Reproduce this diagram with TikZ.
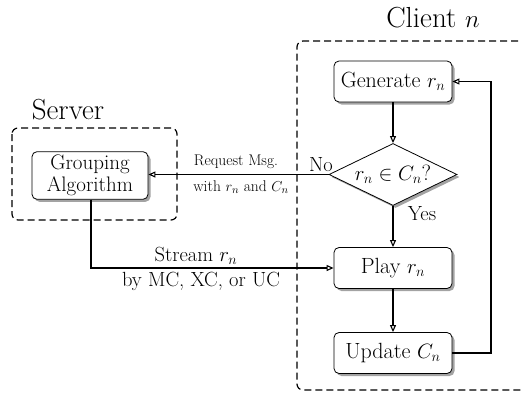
\documentclass[tikz,border=0pt]{standalone}
\usetikzlibrary{arrows.meta,shapes.geometric,shadows}
\begin{document}
\begin{tikzpicture}[x=1pt,y=-1pt,
  box/.style={draw, rounded corners=5pt, fill=white, line width=0.8pt, minimum width=118pt, minimum height=41pt, font=\fontsize{22}{25}\selectfont,
    drop shadow={shadow xshift=2.5pt, shadow yshift=-2.5pt, fill=black!60, opacity=0.6}},
  dec/.style={draw, diamond, aspect=2.06, fill=white, line width=0.8pt, inner sep=0pt, minimum width=128pt, minimum height=62pt, font=\fontsize{22}{25}\selectfont,
    drop shadow={shadow xshift=2.5pt, shadow yshift=-2.5pt, fill=black!60, opacity=0.6}},
  group/.style={draw, dash pattern=on 7pt off 4pt, line width=1.2pt, rounded corners=6pt},
  conn/.style={line width=1.1pt, -{Triangle[open,length=7pt,width=6pt]}},
  title/.style={font=\fontsize{29}{32}\selectfont},
  lab/.style={font=\fontsize{20.5}{23}\selectfont},
  small/.style={font=\fontsize{15.5}{18}\selectfont}]
\useasboundingbox (0,0) rectangle (522,394);
% groups
\draw[group] (540,41) -- (297,41) -- (297,390) -- (540,390);
\draw[group] (12,128) rectangle (177,220);
\node[title] (clientlbl) at (433,18) {Client $n$};
\node[title] (serverlbl) at (68,110) {Server};
% nodes
\node[box] (gen) at (393,81.5) {Generate $r_n$};
\node[dec] (dec) at (393,174.5) {$r_n\in C_n$?};
\node[box] (play) at (393,268) {Play $r_n$};
\node[box] (upd) at (393,353) {Update $C_n$};
\node[box, minimum width=116pt, minimum height=45pt, align=center, font=\fontsize{21}{22}\selectfont] (grp) at (90,175.5) {Grouping\\Algorithm};
\coordinate (fb1) at (491,353);
\coordinate (fb2) at (491,81.5);
\coordinate (st) at (91,268);
% connectors
\draw[conn] (gen) -- (dec);
\draw[conn] (dec) -- (play);
\draw[conn] (play) -- (upd);
\draw[conn] (upd.east) -- (fb1) -- (fb2) -- (gen.east);
\draw[conn] (dec.west) -- (grp.east |- dec.west);
\draw[conn] (grp.south -| st) -- (st) -- (play.west |- st);
% labels
\node[lab] (no) at (321,165) {No};
\node[lab] (yes) at (422,214) {Yes};
\node[small] (req1) at (236,162) {Request Msg.};
\node[small] (req2) at (241,187) {with $r_n$ and $C_n$};
\node[lab] (str1) at (196,256) {Stream $r_n$};
\node[lab] (str2) at (201,281) {by MC, XC, or UC};
\end{tikzpicture}
\end{document}
